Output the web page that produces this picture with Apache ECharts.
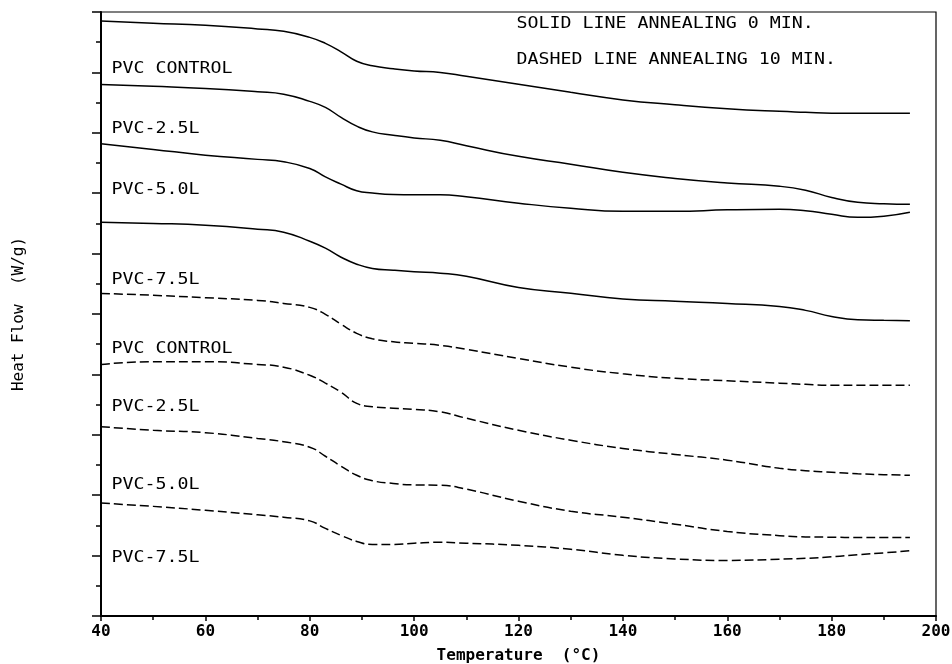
<!DOCTYPE html>
<html>
<head>
<meta charset="utf-8">
<script src="https://cdn.jsdelivr.net/npm/echarts@6/dist/echarts.min.js"></script>
<style>
  html, body { margin: 0; padding: 0; background: #fff; }
  #main { width: 952px; height: 664px; }
</style>
</head>
<body>
<div id="main"></div>
<script>
// temperature samples (°C)
const temps = [40, 50, 60, 70, 75, 80, 83, 86, 89, 92, 96, 100, 105, 110, 120, 130, 140, 150, 160, 170, 175, 180, 185, 190, 195];

// heat flow, offset traces (arbitrary units, top of frame = 20)
// annealing 0 min (solid)
const solid0 = [19.70, 19.63, 19.56, 19.44, 19.36, 19.16, 18.96, 18.68, 18.37, 18.22, 18.12, 18.05, 18.00, 17.87, 17.61, 17.34, 17.09, 16.93, 16.80, 16.71, 16.68, 16.65, 16.65, 16.65, 16.65];
const solid25 = [17.60, 17.54, 17.47, 17.36, 17.28, 17.04, 16.84, 16.51, 16.22, 16.03, 15.92, 15.83, 15.75, 15.57, 15.22, 14.96, 14.69, 14.49, 14.34, 14.23, 14.10, 13.86, 13.70, 13.65, 13.63];
const solid50 = [15.64, 15.45, 15.26, 15.12, 15.04, 14.82, 14.54, 14.30, 14.08, 14.01, 13.96, 13.95, 13.95, 13.88, 13.67, 13.50, 13.40, 13.40, 13.45, 13.47, 13.42, 13.30, 13.20, 13.24, 13.37];
const solid75 = [13.04, 13.00, 12.94, 12.81, 12.71, 12.41, 12.18, 11.88, 11.65, 11.51, 11.45, 11.40, 11.35, 11.25, 10.88, 10.69, 10.50, 10.42, 10.35, 10.25, 10.12, 9.92, 9.81, 9.79, 9.78];
// annealing 10 min (dashed)
const dashed0 = [10.68, 10.62, 10.54, 10.45, 10.35, 10.22, 9.99, 9.66, 9.36, 9.18, 9.08, 9.03, 8.96, 8.83, 8.53, 8.24, 8.02, 7.87, 7.79, 7.71, 7.67, 7.64, 7.64, 7.64, 7.64];
const dashed25 = [8.33, 8.42, 8.42, 8.33, 8.24, 7.97, 7.71, 7.41, 7.04, 6.93, 6.88, 6.84, 6.76, 6.55, 6.15, 5.82, 5.55, 5.35, 5.16, 4.89, 4.81, 4.76, 4.71, 4.68, 4.66];
const dashed50 = [6.27, 6.15, 6.07, 5.88, 5.77, 5.59, 5.29, 4.96, 4.66, 4.48, 4.39, 4.34, 4.33, 4.20, 3.80, 3.47, 3.27, 3.04, 2.80, 2.66, 2.62, 2.61, 2.60, 2.60, 2.60];
const dashed75 = [3.74, 3.63, 3.50, 3.35, 3.27, 3.15, 2.90, 2.67, 2.47, 2.37, 2.37, 2.41, 2.44, 2.41, 2.34, 2.21, 2.01, 1.89, 1.84, 1.88, 1.91, 1.96, 2.03, 2.09, 2.16];

// curve labels: text, anchor temperature, anchor heat flow
const labelNames = ['PVC CONTROL', 'PVC-2.5L', 'PVC-5.0L', 'PVC-7.5L', 'PVC CONTROL', 'PVC-2.5L', 'PVC-5.0L', 'PVC-7.5L'];
const labelY = [18.11, 16.11, 14.10, 11.12, 8.85, 6.92, 4.33, 1.92];
const labelX = 42;

const noteLines = ['SOLID LINE ANNEALING 0 MIN.', 'DASHED LINE ANNEALING 10 MIN.'];
const noteY = [19.59, 18.42];
const noteX = 119.6;

const curves = [
    ['PVC CONTROL 0', solid0, false],
    ['PVC-2.5L 0', solid25, false],
    ['PVC-5.0L 0', solid50, false],
    ['PVC-7.5L 0', solid75, false],
    ['PVC CONTROL 10', dashed0, true],
    ['PVC-2.5L 10', dashed25, true],
    ['PVC-5.0L 10', dashed50, true],
    ['PVC-7.5L 10', dashed75, true]
];

const FONT = '"DejaVu Sans Mono", monospace';

let chart = echarts.init(document.getElementById('main'), null, { renderer: 'canvas' });

chart.setOption({
    animation: false,
    backgroundColor: '#fff',
    grid: {
        left: 101, right: 16, top: 12, bottom: 48,
        outerBoundsMode: 'none',
        show: true, borderColor: '#000', borderWidth: 1.2
    },
    xAxis: {
        type: 'value',
        min: 40, max: 200, interval: 20,
        name: 'Temperature  (°C)',
        nameLocation: 'middle',
        nameGap: 32,
        nameTextStyle: { fontFamily: FONT, fontSize: 16, fontWeight: 'bold', color: '#000' },
        axisLine: { lineStyle: { color: '#000', width: 2 } },
        axisTick: { length: 5, lineStyle: { color: '#000', width: 1.5 } },
        minorTick: { show: true, splitNumber: 2, length: 4, lineStyle: { color: '#000', width: 1.5 } },
        axisLabel: { fontFamily: FONT, fontSize: 16, fontWeight: 'bold', color: '#000', margin: 8 },
        splitLine: { show: false }
    },
    yAxis: {
        type: 'value',
        min: 0, max: 20, interval: 2,
        name: 'Heat Flow  (W/g)',
        nameLocation: 'middle',
        nameGap: 74,
        nameRotate: 90,
        nameTextStyle: { fontFamily: FONT, fontSize: 16, color: '#000' },
        axisLine: { lineStyle: { color: '#000', width: 2 } },
        axisTick: { length: 9, lineStyle: { color: '#000', width: 1.5 } },
        minorTick: { show: true, splitNumber: 2, length: 5, lineStyle: { color: '#000', width: 1.5 } },
        axisLabel: { show: false },
        splitLine: { show: false }
    },
    series: curves.map(c => ({
        name: c[0],
        type: 'line',
        data: temps.map((t, i) => [t, c[1][i]]),
        showSymbol: false,
        smooth: 0.5,
        lineStyle: { color: '#000', width: 1.5, type: c[2] ? [9, 4] : 'solid' }
    }))
});

// annotations are anchored in data coordinates
function textAt(str, x, y) {
    let p = chart.convertToPixel({ gridIndex: 0 }, [x, y]);
    return {
        type: 'text',
        x: p[0], y: p[1],
        scaleX: 1.22,
        style: {
            text: str,
            font: '15px ' + FONT,
            fill: '#000',
            textAlign: 'left',
            textVerticalAlign: 'middle'
        }
    };
}

let texts = [];
labelNames.forEach((n, i) => texts.push(textAt(n, labelX, labelY[i])));
noteLines.forEach((n, i) => texts.push(textAt(n, noteX, noteY[i])));
chart.setOption({ graphic: texts });
</script>
</body>
</html>
